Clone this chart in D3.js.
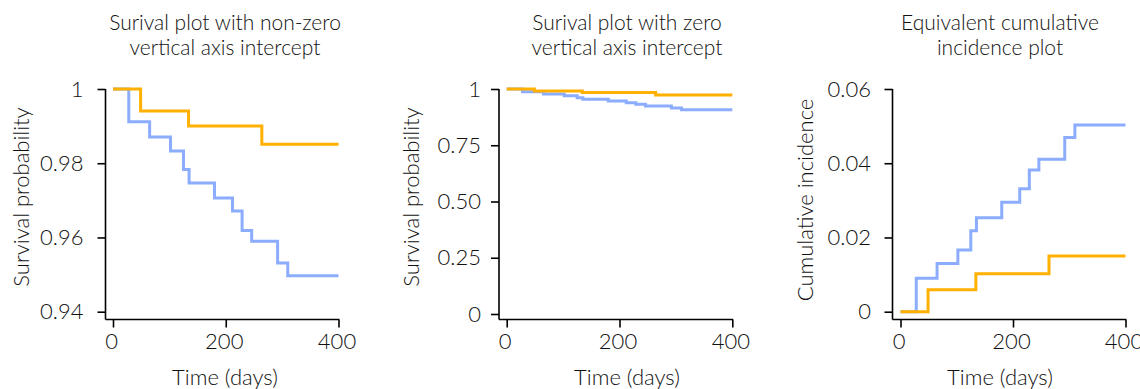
<!DOCTYPE html>
<html>
<head>
<meta charset="utf-8">
<script src="https://cdn.jsdelivr.net/npm/d3@7"></script>
<style>
  html, body { margin: 0; padding: 0; background: #fff; }
  svg { display: block; }
  text { font-family: Lato, "Noto Sans", sans-serif; font-weight: 300; fill: #111; }
</style>
</head>
<body>
<svg id="chart" width="1140" height="389"></svg>
<script>
// ---------- data ----------
const xTicks = [0, 200, 400];
const xTickLabels = ["0", "200", "400"];

const blueTimes   = [0, 28, 65, 102, 125, 135, 180, 212, 229, 246, 292, 310, 400];
const orangeTimes = [0, 49, 134, 264, 400];

// Panel 1: survival, non-zero intercept
const p1Blue   = [1, 0.9912, 0.9871, 0.9833, 0.9783, 0.9747, 0.9706, 0.9671, 0.9619, 0.9590, 0.9531, 0.9497, 0.9497];
const p1Orange = [1, 0.9941, 0.9900, 0.9851, 0.9851];
const p1Ticks = [0.94, 0.96, 0.98, 1];
const p1TickLabels = ["0.94", "0.96", "0.98", "1"];

// Panel 2: survival, zero intercept
const p2Blue   = [1, 0.988, 0.978, 0.970, 0.961, 0.954, 0.947, 0.939, 0.932, 0.924, 0.916, 0.908, 0.908];
const p2Orange = [1, 0.991, 0.984, 0.973, 0.973];
const p2Ticks = [0, 0.25, 0.5, 0.75, 1];
const p2TickLabels = ["0", "0.25", "0.50", "0.75", "1"];

// Panel 3: cumulative incidence
const p3Blue   = [0, 0.0090, 0.0130, 0.0166, 0.0218, 0.0253, 0.0295, 0.0331, 0.0382, 0.0411, 0.0469, 0.0503, 0.0503];
const p3Orange = [0, 0.0059, 0.0102, 0.0150, 0.0150];
const p3Ticks = [0, 0.02, 0.04, 0.06];
const p3TickLabels = ["0", "0.02", "0.04", "0.06"];

const titles = [
  ["Surival plot with non-zero", "vertical axis intercept"],
  ["Surival plot with zero", "vertical axis intercept"],
  ["Equivalent cumulative", "incidence plot"]
];
const yTitles = ["Survival probability", "Survival probability", "Cumulative incidence"];
const xTitle = "Time (days)";

// ---------- layout ----------
const BLUE = "#8cadfd", ORANGE = "#ffb000";
const FS = 22, TFS = 21;
const panels = [
  { yAxisX: 105.5, x0: 113, x1: 338.5, domain: [0.94, 1], yr: [311.7, 89], ticks: p1Ticks, labels: p1TickLabels,
    blue: p1Blue, orange: p1Orange, pad: 14, center: 225, yTitleX: 29, yTitleY: 197 },
  { yAxisX: 499, x0: 506.7, x1: 732.3, domain: [0, 1], yr: [314, 89], ticks: p2Ticks, labels: p2TickLabels,
    blue: p2Blue, orange: p2Orange, pad: 10, center: 627, yTitleX: 419, yTitleY: 197 },
  { yAxisX: 892.5, x0: 900.5, x1: 1125.5, domain: [0, 0.06], yr: [311.7, 89], ticks: p3Ticks, labels: p3TickLabels,
    blue: p3Blue, orange: p3Orange, pad: 13.5, center: 1000, yTitleX: 813, yTitleY: 200 }
];
const xAxisY = 319.5;
const tickLen = 8;

const svg = d3.select("#chart");

panels.forEach((p, pi) => {
  const x = d3.scaleLinear().domain([0, 400]).range([p.x0, p.x1]);
  const y = d3.scaleLinear().domain(p.domain).range(p.yr);
  const g = svg.append("g");

  // title (two lines)
  titles[pi].forEach((t, li) => {
    g.append("text").attr("x", p.center).attr("y", li === 0 ? 29.5 : 55)
      .attr("text-anchor", "middle").attr("font-size", TFS).text(t);
  });

  // axis lines (L shape)
  g.append("line").attr("x1", p.yAxisX).attr("x2", p.yAxisX)
    .attr("y1", y(p.domain[1])).attr("y2", xAxisY)
    .attr("stroke", "#000").attr("stroke-width", 1.6);
  g.append("line").attr("x1", p.yAxisX).attr("x2", x(400) + 0.8)
    .attr("y1", xAxisY).attr("y2", xAxisY)
    .attr("stroke", "#000").attr("stroke-width", 1.6);

  // y axis
  const ya = g.append("g").attr("transform", `translate(${p.yAxisX},0)`)
    .call(d3.axisLeft(y).tickValues(p.ticks).tickFormat((d, i) => p.labels[i])
      .tickSize(tickLen).tickPadding(p.pad));
  ya.select(".domain").remove();
  ya.selectAll(".tick line").attr("stroke", "#000").attr("stroke-width", 1.6);
  ya.selectAll(".tick text").attr("font-size", FS).attr("font-family", "Lato").attr("font-weight", 300).attr("fill", "#111");

  // x axis
  const xa = g.append("g").attr("transform", `translate(0,${xAxisY})`)
    .call(d3.axisBottom(x).tickValues(xTicks).tickFormat((d, i) => xTickLabels[i])
      .tickSize(tickLen).tickPadding(5.4));
  xa.select(".domain").remove();
  xa.selectAll(".tick line").attr("stroke", "#000").attr("stroke-width", 1.6);
  xa.selectAll(".tick text").attr("font-size", FS).attr("font-family", "Lato").attr("font-weight", 300).attr("fill", "#111")
    .attr("dx", -2);

  // axis titles
  g.append("text").attr("x", p.center).attr("y", 385).attr("text-anchor", "middle")
    .attr("font-size", FS).text(xTitle);
  g.append("text").attr("transform", `translate(${p.yTitleX},${p.yTitleY}) rotate(-90)`)
    .attr("text-anchor", "middle").attr("font-size", FS).text(yTitles[pi]);

  // step lines
  const line = d3.line().curve(d3.curveStepAfter).x(d => x(d[0])).y(d => y(d[1]));
  const blueData = blueTimes.map((t, i) => [t, p.blue[i]]);
  const orangeData = orangeTimes.map((t, i) => [t, p.orange[i]]);
  g.append("path").datum(blueData).attr("d", line).attr("fill", "none")
    .attr("stroke", BLUE).attr("stroke-width", 3);
  g.append("path").datum(orangeData).attr("d", line).attr("fill", "none")
    .attr("stroke", ORANGE).attr("stroke-width", 3);
});
</script>
</body>
</html>
